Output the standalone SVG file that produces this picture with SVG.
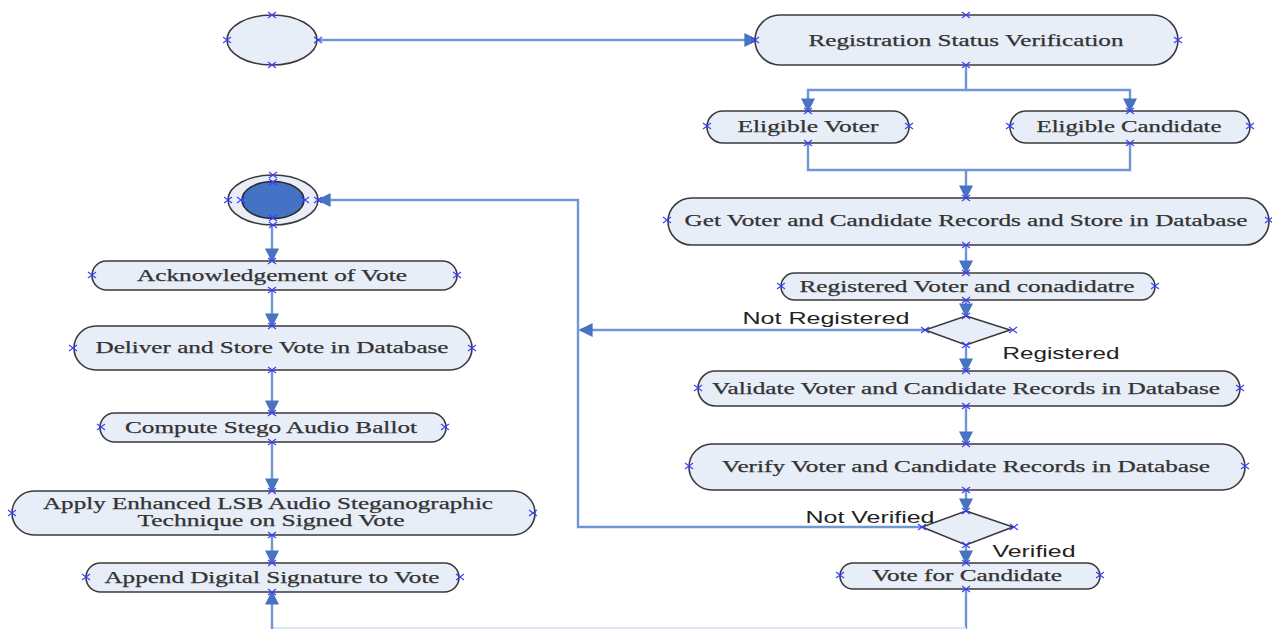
<svg xmlns="http://www.w3.org/2000/svg" xmlns:xlink="http://www.w3.org/1999/xlink" width="1272" height="629" viewBox="0 0 1272 629">
<style>
.n{fill:#e8eef8;stroke:#3a3a3a;stroke-width:1.6}
.t{font-family:"Liberation Serif","Times New Roman",serif;font-size:16px;fill:#333;text-anchor:middle;dominant-baseline:central;stroke:#333;stroke-width:0.25}
.l{font-family:"Liberation Sans",Arial,sans-serif;font-size:17px;fill:#222;text-anchor:middle;dominant-baseline:central}
.c{fill:none;stroke:#6f97d6;stroke-width:2.4}
.a{marker-end:url(#ah)}
</style>
<defs>
<marker id="ah" viewBox="0 0 10 10" refX="9" refY="5" markerWidth="14" markerHeight="14" markerUnits="userSpaceOnUse" orient="auto">
<path d="M0,0L10,5L0,10z" fill="#4674c0"/>
</marker>
<path id="cx" d="M-4,-3L4,3M-4,3L4,-3" stroke="#3b3bff" stroke-width="1.1" fill="none"/>
</defs>

<g id="connectors">
<path class="c a" d="M318,40H757"/>
<path class="c a" d="M966,65V90H808V111"/>
<path class="c a" d="M966,90H1130V111"/>
<path class="c" d="M808,143V170H1130V143"/>
<path class="c a" d="M966,170V198"/>
<path class="c a" d="M966,245V273"/>
<path class="c a" d="M966,300V316"/>
<path class="c a" d="M925,330H580"/>
<path class="c a" d="M966,345V371"/>
<path class="c a" d="M966,406V444"/>
<path class="c a" d="M966,490V511"/>
<path class="c a" d="M922,527H578V200H318"/>
<path class="c a" d="M966,545V563"/>
<path class="c" d="M966,588V629"/>
<path d="M272,628H966" stroke="#dde5f3" stroke-width="2" fill="none"/>
<path class="c a" d="M272,224V261"/>
<path class="c a" d="M272,290V326"/>
<path class="c a" d="M272,370V413"/>
<path class="c a" d="M272,442V491"/>
<path class="c a" d="M272,535V563"/>
<path class="c a" d="M272,629V592"/>
</g>

<g id="start">
<ellipse class="n" cx="272" cy="40" rx="45" ry="25"/>
<use href="#cx" x="272" y="15"/><use href="#cx" x="227" y="40"/><use href="#cx" x="318" y="40"/><use href="#cx" x="272" y="65"/>
</g>

<g id="registration">
<rect class="n" x="755" y="15" width="423" height="50" rx="25"/>
<text class="t" x="966" y="40" textLength="315" lengthAdjust="spacingAndGlyphs">Registration Status Verification</text>
<use href="#cx" x="966" y="15"/><use href="#cx" x="755" y="40"/><use href="#cx" x="1178" y="40"/><use href="#cx" x="966" y="65"/>
</g>

<g id="eligible-voter">
<rect class="n" x="707" y="111" width="202" height="32" rx="16"/>
<text class="t" x="808" y="126" textLength="141" lengthAdjust="spacingAndGlyphs">Eligible Voter</text>
<use href="#cx" x="808" y="111"/><use href="#cx" x="707" y="126"/><use href="#cx" x="909" y="126"/><use href="#cx" x="808" y="143"/>
</g>

<g id="eligible-candidate">
<rect class="n" x="1010" y="111" width="240" height="32" rx="16"/>
<text class="t" x="1129" y="126" textLength="185" lengthAdjust="spacingAndGlyphs">Eligible Candidate</text>
<use href="#cx" x="1130" y="111"/><use href="#cx" x="1010" y="126"/><use href="#cx" x="1250" y="126"/><use href="#cx" x="1130" y="143"/>
</g>

<g id="get-records">
<rect class="n" x="668" y="198" width="601" height="47" rx="23.5"/>
<text class="t" x="966" y="220" textLength="563" lengthAdjust="spacingAndGlyphs">Get Voter and Candidate Records and Store in Database</text>
<use href="#cx" x="966" y="198"/><use href="#cx" x="667" y="220"/><use href="#cx" x="1269" y="220"/><use href="#cx" x="966" y="245"/>
</g>

<g id="registered">
<rect class="n" x="781" y="273" width="374" height="27" rx="13.5"/>
<text class="t" x="967" y="286" textLength="335" lengthAdjust="spacingAndGlyphs">Registered Voter and conadidatre</text>
<use href="#cx" x="966" y="273"/><use href="#cx" x="781" y="286"/><use href="#cx" x="1155" y="286"/><use href="#cx" x="966" y="300"/>
</g>

<g id="decision1">
<path class="n" d="M966,316L1010,330L966,345L925,330Z"/>
<use href="#cx" x="966" y="316"/><use href="#cx" x="925" y="330"/><use href="#cx" x="1013" y="330"/><use href="#cx" x="966" y="345"/>
<text class="l" x="826" y="318" textLength="167" lengthAdjust="spacingAndGlyphs">Not Registered</text>
<text class="l" x="1061" y="353" textLength="117" lengthAdjust="spacingAndGlyphs">Registered</text>
</g>

<g id="validate">
<rect class="n" x="698" y="371" width="542" height="35" rx="17.5"/>
<text class="t" x="966" y="388" textLength="508" lengthAdjust="spacingAndGlyphs">Validate Voter and Candidate Records in Database</text>
<use href="#cx" x="966" y="371"/><use href="#cx" x="698" y="388"/><use href="#cx" x="1240" y="388"/><use href="#cx" x="966" y="406"/>
</g>

<g id="verify">
<rect class="n" x="689" y="444" width="556" height="46" rx="23"/>
<text class="t" x="966" y="466" textLength="488" lengthAdjust="spacingAndGlyphs">Verify Voter and Candidate Records in Database</text>
<use href="#cx" x="966" y="444"/><use href="#cx" x="689" y="466"/><use href="#cx" x="1245" y="466"/><use href="#cx" x="966" y="490"/>
</g>

<g id="decision2">
<path class="n" d="M966,511L1013,527L966,545L922,527Z"/>
<use href="#cx" x="966" y="511"/><use href="#cx" x="922" y="527"/><use href="#cx" x="1014" y="527"/><use href="#cx" x="966" y="545"/>
<text class="l" x="870" y="517" textLength="129" lengthAdjust="spacingAndGlyphs">Not Verified</text>
<text class="l" x="1034" y="551" textLength="83" lengthAdjust="spacingAndGlyphs">Verified</text>
</g>

<g id="vote-candidate">
<rect class="n" x="840" y="563" width="260" height="26" rx="13"/>
<text class="t" x="967" y="575" textLength="190" lengthAdjust="spacingAndGlyphs">Vote for Candidate</text>
<use href="#cx" x="966" y="563"/><use href="#cx" x="840" y="575"/><use href="#cx" x="1100" y="575"/><use href="#cx" x="966" y="589"/>
</g>

<g id="final">
<ellipse class="n" cx="273" cy="200" rx="45" ry="25"/>
<ellipse cx="273" cy="200" rx="31" ry="18.5" fill="#4472c4" stroke="#2a2a2a" stroke-width="1.6"/>
<use href="#cx" x="273" y="175"/><use href="#cx" x="273" y="182"/><use href="#cx" x="228" y="200"/><use href="#cx" x="241" y="200"/>
<use href="#cx" x="305" y="200"/><use href="#cx" x="318" y="200"/><use href="#cx" x="273" y="218"/><use href="#cx" x="273" y="225"/>
</g>

<g id="acknowledge">
<rect class="n" x="92" y="261" width="365" height="29" rx="14.5"/>
<text class="t" x="272" y="275" textLength="270" lengthAdjust="spacingAndGlyphs">Acknowledgement of Vote</text>
<use href="#cx" x="272" y="261"/><use href="#cx" x="92" y="275"/><use href="#cx" x="457" y="275"/><use href="#cx" x="272" y="290"/>
</g>

<g id="deliver">
<rect class="n" x="74" y="326" width="398" height="44" rx="22"/>
<text class="t" x="272" y="347" textLength="353" lengthAdjust="spacingAndGlyphs">Deliver and Store Vote in Database</text>
<use href="#cx" x="272" y="326"/><use href="#cx" x="73" y="348"/><use href="#cx" x="472" y="348"/><use href="#cx" x="272" y="370"/>
</g>

<g id="compute">
<rect class="n" x="100" y="413" width="346" height="29" rx="14.5"/>
<text class="t" x="271" y="427" textLength="292" lengthAdjust="spacingAndGlyphs">Compute Stego Audio Ballot</text>
<use href="#cx" x="272" y="413"/><use href="#cx" x="101" y="427"/><use href="#cx" x="445" y="427"/><use href="#cx" x="272" y="442"/>
</g>

<g id="apply">
<rect class="n" x="12" y="491" width="523" height="44" rx="22"/>
<text class="t" x="268" y="503" textLength="450" lengthAdjust="spacingAndGlyphs">Apply Enhanced LSB Audio Steganographic</text>
<text class="t" x="271" y="520" textLength="267" lengthAdjust="spacingAndGlyphs">Technique on Signed Vote</text>
<use href="#cx" x="272" y="491"/><use href="#cx" x="12" y="513"/><use href="#cx" x="533" y="513"/><use href="#cx" x="272" y="535"/>
</g>

<g id="append">
<rect class="n" x="86" y="563" width="373" height="29" rx="14.5"/>
<text class="t" x="272" y="577" textLength="335" lengthAdjust="spacingAndGlyphs">Append Digital Signature to Vote</text>
<use href="#cx" x="272" y="563"/><use href="#cx" x="86" y="577"/><use href="#cx" x="460" y="577"/><use href="#cx" x="272" y="592"/>
</g>
</svg>
